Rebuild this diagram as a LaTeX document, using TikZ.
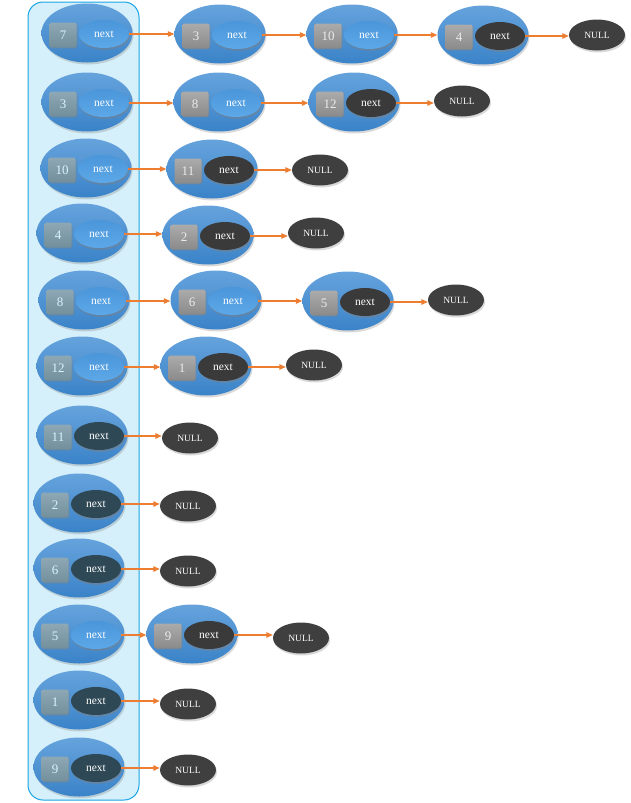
\documentclass[tikz,border=0pt]{standalone}
\usepackage{fontspec}
\setmainfont{Liberation Serif}
\usetikzlibrary{shapes.geometric,shadows,arrows.meta}
\definecolor{bigtop}{HTML}{66A3DD}
\definecolor{bigbot}{HTML}{3A83C8}
\definecolor{nbtop}{HTML}{4A96DA}
\definecolor{nbbot}{HTML}{5CA8E8}
\definecolor{darknext}{HTML}{3A3A3A}
\definecolor{slatenext}{HTML}{2F4855}
\definecolor{nullfill}{HTML}{3F3F3F}
\definecolor{lboxtop}{HTML}{8EA8B4}
\definecolor{lboxbot}{HTML}{728F9C}
\definecolor{cboxtop}{HTML}{ABABAB}
\definecolor{cboxbot}{HTML}{8A8A8A}
\definecolor{panelfill}{HTML}{D5F0FB}
\definecolor{paneldraw}{HTML}{19A4E6}
\definecolor{arrowc}{HTML}{ED7D31}
\newcommand\mklist[6]{% name, x, y, box style, next style, number
  \node[bignode] (#1) at (#2,#3) {};
  \node[#4] (#1-v) at ({#2-24},{#3+2}) {#6};
  \node[#5] (#1-n) at ({#2+17},{#3+1}) {next};
}
\newcommand\link[2]{\draw[arr] (#1.east) -- (#2.west |- #1.east);}
\begin{document}
\begin{tikzpicture}[x=1pt,y=-1pt,
  bignode/.style={ellipse, minimum width=91pt, minimum height=59pt, inner sep=0pt,
    top color=bigtop, bottom color=bigbot,
    drop shadow={opacity=0.3, shadow xshift=1pt, shadow yshift=-2pt}},
  boxbase/.style={rectangle, rounded corners=2pt, minimum width=27pt, minimum height=25pt,
    inner sep=0pt, font=\fontsize{13}{13}\selectfont,
    drop shadow={opacity=0.35, shadow xshift=1pt, shadow yshift=-1pt}},
  lbox/.style={boxbase, top color=lboxtop, bottom color=lboxbot, text=white!85!cyan},
  cbox/.style={boxbase, top color=cboxtop, bottom color=cboxbot, text=white!92!black},
  nextbase/.style={ellipse, minimum width=50pt, minimum height=28pt, inner sep=0pt,
    font=\fontsize{11.5}{11.5}\selectfont,
    drop shadow={opacity=0.5, shadow xshift=0.8pt, shadow yshift=-1.8pt}},
  nextblue/.style={nextbase, top color=nbtop, bottom color=nbbot, text=white},
  nextdark/.style={nextbase, fill=darknext, text=white},
  nextslate/.style={nextbase, fill=slatenext, text=white},
  nullnode/.style={ellipse, minimum width=56pt, minimum height=31pt, inner sep=0pt,
    fill=nullfill, text=white, font=\fontsize{9.5}{9.5}\selectfont,
    drop shadow={opacity=0.3, shadow xshift=1pt, shadow yshift=-2pt}},
  arr/.style={draw=arrowc, line width=1.2pt, -{Triangle[length=6.5pt,width=5.5pt]}},
]
\useasboundingbox (0,0) rectangle (631,803);
\node[draw=paneldraw, fill=panelfill, line width=1pt, rounded corners=15pt,
  minimum width=111pt, minimum height=798pt, inner sep=0pt] (panel) at (83.5,401) {};

% row 1
\mklist{L1}{87}{33}{lbox}{nextblue}{7}
\mklist{A3}{220}{34}{cbox}{nextblue}{3}
\mklist{A10}{352}{34}{cbox}{nextblue}{10}
\mklist{A4}{483}{35}{cbox}{nextdark}{4}
\node[nullnode] (N1) at (597,35) {NULL};
\link{L1-n}{A3}
\link{A3-n}{A10}
\link{A10-n}{A4}
\link{A4-n}{N1}

% row 2
\mklist{L2}{87}{102}{lbox}{nextblue}{3}
\mklist{B8}{219}{102}{cbox}{nextblue}{8}
\mklist{B12}{354}{102}{cbox}{nextdark}{12}
\node[nullnode] (N2) at (462,101) {NULL};
\link{L2-n}{B8}
\link{B8-n}{B12}
\link{B12-n}{N2}

% row 3
\mklist{L3}{86}{168}{lbox}{nextblue}{10}
\mklist{C11}{212}{169}{cbox}{nextdark}{11}
\node[nullnode] (N3) at (320,170) {NULL};
\link{L3-n}{C11}
\link{C11-n}{N3}

% row 4
\mklist{L4}{82}{233}{lbox}{nextblue}{4}
\mklist{D2}{208}{235}{cbox}{nextdark}{2}
\node[nullnode] (N4) at (316,233) {NULL};
\link{L4-n}{D2}
\link{D2-n}{N4}

% row 5
\mklist{L5}{84}{300}{lbox}{nextblue}{8}
\mklist{E6}{216}{300}{cbox}{nextblue}{6}
\mklist{E5}{348}{301}{cbox}{nextdark}{5}
\node[nullnode] (N5) at (456,300) {NULL};
\link{L5-n}{E6}
\link{E6-n}{E5}
\link{E5-n}{N5}

% row 6
\mklist{L6}{82}{366}{lbox}{nextblue}{12}
\mklist{F1}{206}{366}{cbox}{nextdark}{1}
\node[nullnode] (N6) at (314,365) {NULL};
\link{L6-n}{F1}
\link{F1-n}{N6}

% row 7
\mklist{L7}{82}{435}{lbox}{nextslate}{11}
\node[nullnode] (N7) at (190,438) {NULL};
\link{L7-n}{N7}

% row 8
\mklist{L8}{79}{503}{lbox}{nextslate}{2}
\node[nullnode] (N8) at (188,506) {NULL};
\link{L8-n}{N8}

% row 9
\mklist{L9}{79}{568}{lbox}{nextslate}{6}
\node[nullnode] (N9) at (188,571) {NULL};
\link{L9-n}{N9}

% row 10
\mklist{L10}{79}{634}{lbox}{nextblue}{5}
\mklist{J9}{192}{634}{cbox}{nextdark}{9}
\node[nullnode] (N10) at (301,638) {NULL};
\link{L10-n}{J9}
\link{J9-n}{N10}

% row 11
\mklist{L11}{79}{700}{lbox}{nextslate}{1}
\node[nullnode] (N11) at (188,704) {NULL};
\link{L11-n}{N11}

% row 12
\mklist{L12}{79}{767}{lbox}{nextslate}{9}
\node[nullnode] (N12) at (188,770) {NULL};
\link{L12-n}{N12}
\end{tikzpicture}
\end{document}
